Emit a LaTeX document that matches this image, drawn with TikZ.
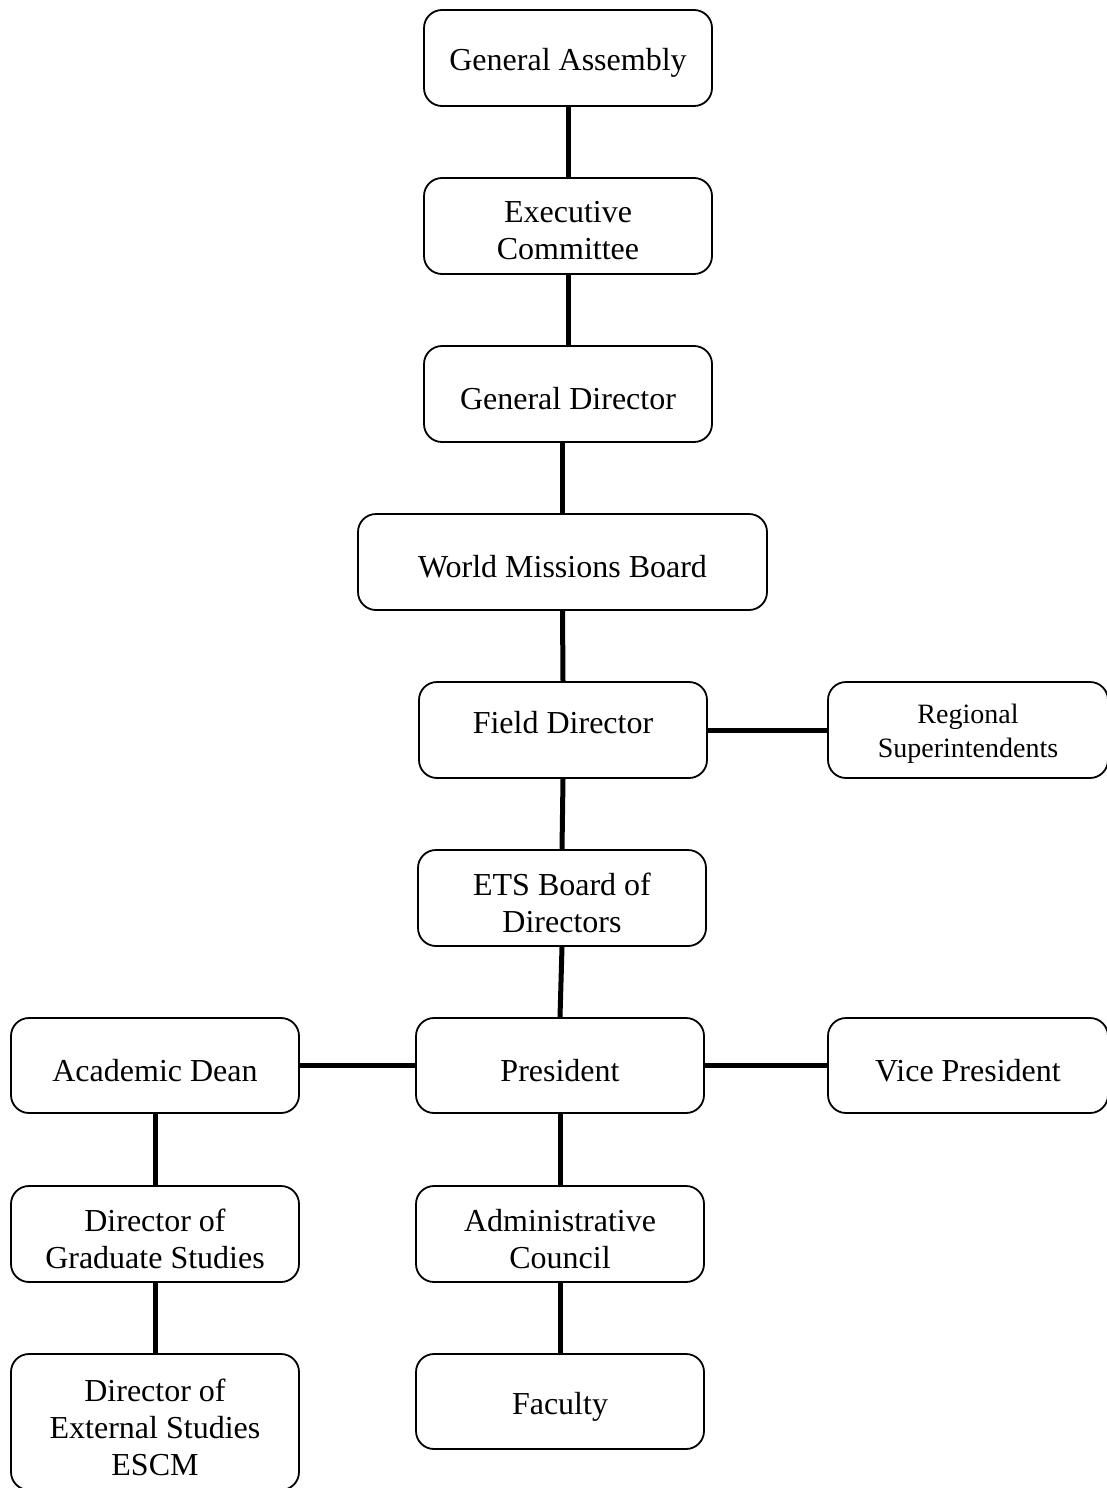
\documentclass[tikz,border=0pt]{standalone}
\usepackage{fontspec}
\setmainfont{Liberation Serif}
\begin{document}
\begin{tikzpicture}[x=1pt,y=-1pt,
  boxshape/.style={draw=black, line width=1.8pt, rounded corners=18pt,
    minimum width=288pt, minimum height=96pt, inner sep=0pt},
  txt/.style={align=center, inner sep=0pt, font=\fontsize{32}{37}\selectfont, yshift=-5pt},
  smalltxt/.style={txt, font=\fontsize{28}{34}\selectfont},
  box/.style={boxshape, label={[txt]center:{#1}}},
  link/.style={line width=5pt, black}]
\clip (0,0) rectangle (1107,1488);
\fill[white] (0,0) rectangle (1107,1488);
\node[box={General Assembly}] (ga) at (568,58) {};
\node[box={Executive\\Committee}] (ec) at (568,226) {};
\node[box={General Director}] (gd) at (568,394) {};
\node[box={World Missions Board}, minimum width=409pt] (wmb) at (562.5,562) {};
\node[boxshape, label={[txt, yshift=12pt]center:{Field Director}}] (fd) at (563,730) {};
\node[boxshape, minimum width=280pt, label={[smalltxt, yshift=1pt]center:{Regional\\Superintendents}}] (rs) at (968,730) {};
\node[box={ETS Board of\\Directors}] (ets) at (562,898) {};
\node[box={President}, minimum height=95pt] (pres) at (560,1065.5) {};
\node[box={Academic Dean}, minimum height=95pt] (ad) at (155,1065.5) {};
\node[box={Vice President}, minimum height=95pt, minimum width=280pt] (vp) at (968,1065.5) {};
\node[box={Director of\\Graduate Studies}] (dgs) at (155,1234) {};
\node[box={Administrative\\Council}] (ac) at (560,1234) {};
\node[box={Director of\\External Studies\\ESCM}, minimum height=136pt] (des) at (155,1422) {};
\node[box={Faculty}, minimum height=95pt] (fac) at (560,1401.5) {};
\draw[link] (ga.south) -- (ec.north);
\draw[link] (ec.south) -- (ec.south |- gd.north);
\draw[link] (wmb.north |- gd.south) -- (wmb.north);
\draw[link] (wmb.south) -- (fd.north);
\draw[link] (fd.south) -- (ets.north);
\draw[link] (ets.south) -- (pres.north);
\draw[link] (pres.south) -- (ac.north);
\draw[link] (ac.south) -- (fac.north);
\draw[link] (fd.east) -- (rs.west);
\draw[link] (pres.east) -- (vp.west);
\draw[link] (ad.east) -- (pres.west);
\draw[link] (ad.south) -- (dgs.north);
\draw[link] (dgs.south) -- (des.north);
\end{tikzpicture}
\end{document}
